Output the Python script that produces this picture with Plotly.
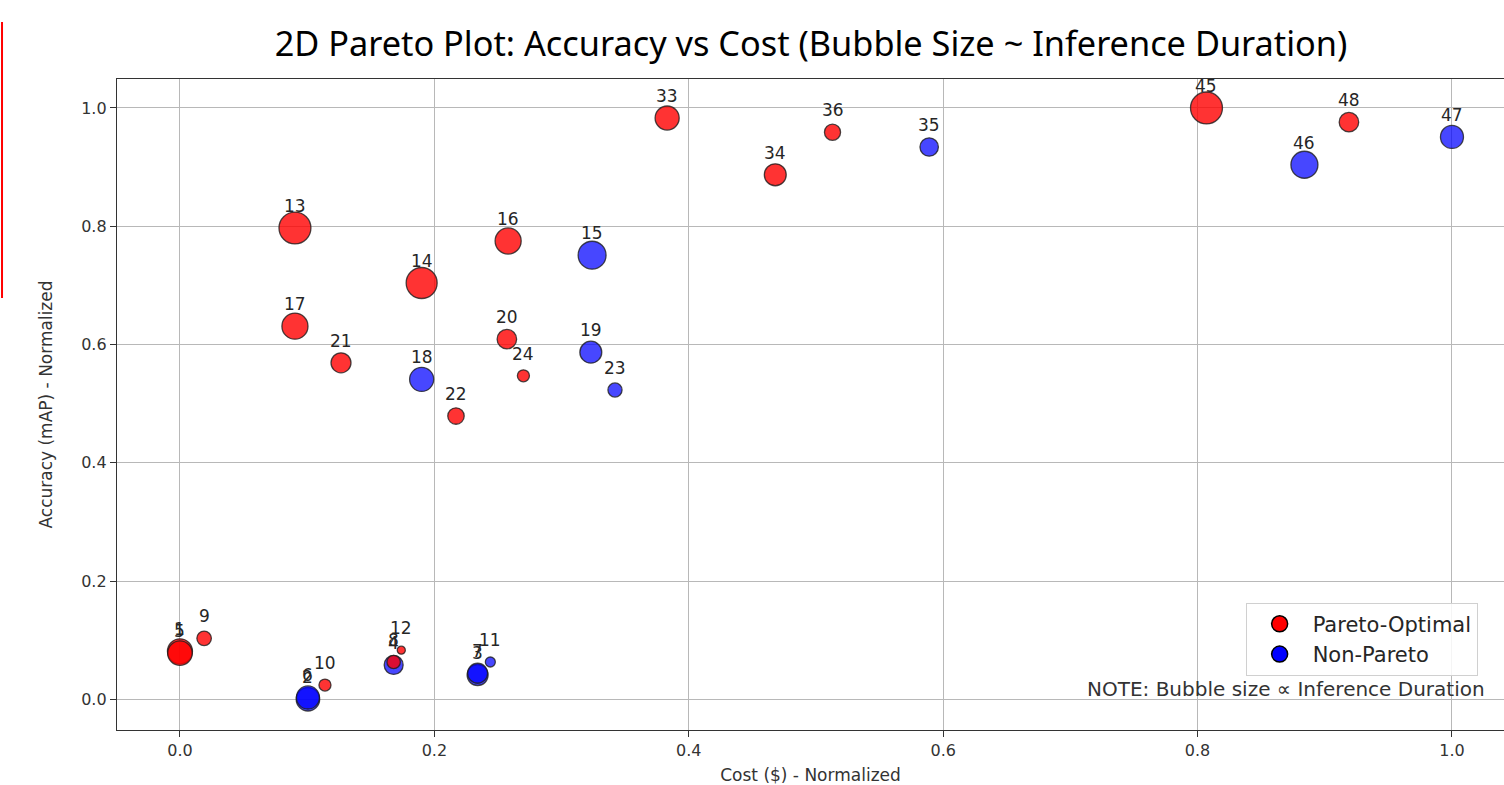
import plotly.graph_objects as go

# ---- data ----
point_ids = [1, 5, 9, 10, 12, 8, 13, 14, 16, 17, 20, 21, 22, 24, 33, 34, 36, 45, 48,
             2, 6, 3, 7, 4, 11, 15, 18, 19, 23, 35, 46, 47]
cost_norm = [0.000, 0.000, 0.019, 0.114, 0.174, 0.168, 0.0904, 0.190, 0.258, 0.0904,
             0.257, 0.1266, 0.217, 0.270, 0.383, 0.468, 0.513, 0.807, 0.919,
             0.1006, 0.1006, 0.234, 0.234, 0.168, 0.244, 0.324, 0.190, 0.323, 0.342,
             0.589, 0.884, 1.000]
accuracy_norm = [0.081, 0.078, 0.103, 0.024, 0.083, 0.063, 0.797, 0.704, 0.775, 0.631,
                 0.609, 0.569, 0.479, 0.547, 0.983, 0.887, 0.959, 1.000, 0.976,
                 0.000, 0.003, 0.041, 0.044, 0.058, 0.063, 0.751, 0.541, 0.587, 0.523,
                 0.934, 0.904, 0.951]
inference_duration = [6.25, 6.0, 2.1, 1.45, 0.65, 1.8, 10.2, 9.6, 6.8, 6.8,
                      3.8, 4.0, 2.7, 1.45, 5.8, 4.8, 2.6, 10.2, 3.8,
                      5.5, 5.3, 4.4, 4.0, 3.6, 1.0, 7.8, 5.8, 4.8, 2.0,
                      3.4, 7.3, 5.3]
is_pareto = [True] * 19 + [False] * 13

title_text = "2D Pareto Plot: Accuracy vs Cost (Bubble Size ~ Inference Duration)"
x_title = "Cost ($) - Normalized"
y_title = "Accuracy (mAP) - Normalized"
note_text = "NOTE: Bubble size ∝ Inference Duration"
tick_vals = [0.0, 0.2, 0.4, 0.6, 0.8, 1.0]
group_names = {True: "Pareto-Optimal", False: "Non-Pareto"}
group_colors = {True: (255, 0, 0), False: (0, 0, 255)}
group_alpha = {True: 0.8, False: 0.72}

# ---- figure ----
fig = go.Figure()

def subset(flag):
    idx = [i for i, p in enumerate(is_pareto) if p == flag]
    return ([cost_norm[i] for i in idx], [accuracy_norm[i] for i in idx],
            [inference_duration[i] for i in idx], [point_ids[i] for i in idx])

# data bubbles (non-Pareto drawn first so that Pareto points sit on top)
for flag in [False, True]:
    xs, ys, ds, ids = subset(flag)
    r, g, b = group_colors[flag]
    fig.add_trace(go.Scatter(
        x=xs, y=ys, mode="markers", name=group_names[flag], showlegend=False,
        text=[str(i) for i in ids],
        marker=dict(size=ds, sizemode="area", sizeref=0.02, opacity=1,
                    color=f"rgba({r},{g},{b},{group_alpha[flag]})",
                    line=dict(color="rgba(30,30,30,0.8)", width=1.3)),
        hovertemplate="%{text}<extra></extra>",
    ))

# legend entries (opaque swatches, like the reference legend)
for flag in [True, False]:
    r, g, b = group_colors[flag]
    fig.add_trace(go.Scatter(
        x=[None], y=[None], mode="markers", name=group_names[flag], showlegend=True,
        marker=dict(size=16, color=f"rgb({r},{g},{b})", opacity=1,
                    line=dict(color="black", width=1.5)),
    ))

# point labels, drawn in id order (later ids on top)
for x, y, pid in sorted(zip(cost_norm, accuracy_norm, point_ids), key=lambda t: t[2]):
    fig.add_annotation(x=x, y=y, text=str(pid), showarrow=False, yshift=22,
                       yanchor="middle", xanchor="center",
                       font=dict(family="DejaVu Sans", size=17, color="#262626"))

fig.add_annotation(xref="paper", yref="paper", x=0.988, y=0.0635, text=note_text,
                   showarrow=False, xanchor="right", yanchor="middle",
                   font=dict(family="DejaVu Sans", size=20, color="#333333"))

# red marker line at the very left of the screenshot
fig.add_shape(type="line", xref="paper", yref="paper", x0=-0.0829, x1=-0.0829,
              y0=0.6636, y1=1.0876, line=dict(color="red", width=2))

axis_common = dict(
    tickvals=tick_vals, tickformat=".1f", showgrid=True, gridcolor="#b8b8b8",
    gridwidth=1.3, zeroline=False, showline=True, linecolor="#333333", linewidth=1.3,
    ticks="outside", ticklen=6, tickwidth=1.3, tickcolor="#333333",
    tickfont=dict(family="DejaVu Sans", size=16, color="#333333"),
)

fig.update_layout(
    width=1504, height=785,
    margin=dict(l=117, r=0, t=79, b=55),
    paper_bgcolor="white", plot_bgcolor="white",
    title=dict(text=title_text, x=811 / 1504, xanchor="center", y=1 - 44 / 785,
               yanchor="middle", yref="container",
               font=dict(family="Noto Sans", size=34.3, color="black")),
    xaxis=dict(range=[-0.0495, 1.0409], mirror=True,
               title=dict(text=x_title, standoff=10,
                          font=dict(family="DejaVu Sans", size=17, color="#333333")),
               **axis_common),
    yaxis=dict(range=[-0.052, 1.049],
               title=dict(text=y_title, standoff=24,
                          font=dict(family="DejaVu Sans", size=17, color="#333333")),
               **axis_common),
    legend=dict(x=0.981, y=0.0835, xanchor="right", yanchor="bottom",
                bgcolor="rgba(255,255,255,0.85)", bordercolor="#d0d0d0", borderwidth=1,
                font=dict(family="DejaVu Sans", size=21, color="#262626"),
                itemsizing="trace", itemwidth=56, tracegroupgap=0),
    showlegend=True,
)

fig.write_html("out.html", config={"displayModeBar": False},
               post_script="document.body.style.margin='0px';")
